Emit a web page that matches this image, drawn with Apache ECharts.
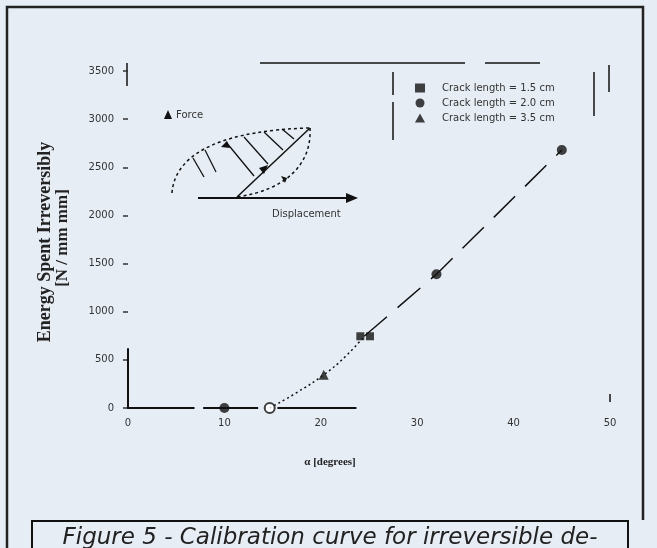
<!DOCTYPE html>
<html>
<head>
<meta charset="utf-8">
<script src="https://cdn.jsdelivr.net/npm/echarts@6/dist/echarts.min.js"></script>
<style>
  html, body { margin: 0; padding: 0; background: #e7edf5; }
  #chart { width: 657px; height: 548px; }
</style>
</head>
<body>
<div id="chart"></div>
<script>
// Calibration data: irreversible energy vs. angle alpha
const seriesNames = ['Crack length = 1.5 cm', 'Crack length = 2.0 cm', 'Crack length = 3.5 cm'];
const crack15 = [[24.1, 745], [25.1, 745]];
const crack20 = [[10, 0], [32, 1390], [45, 2680]];
const crack35 = [[20.3, 345]];
const onsetPoint = [[14.7, 0]];
// fitted calibration curve, lower (dotted) and upper (dashed) parts
const fitLower = [[14.7, 0], [17.5, 160], [20.3, 345], [22.5, 530], [24.5, 745]];
const fitUpper = [[24.5, 745], [32, 1390], [45, 2680]];
// axis fragments
const baseline = [[0, 0], [6.9, 0], [7.3, '-'], [7.8, 0], [13.5, 0], [14.5, '-'], [15.5, 0], [23.7, 0]];
const yAxisStub = [[0, -40], [0, 620]];
const yTicks = [0, 500, 1000, 1500, 2000, 2500, 3000, 3500];
const xTicks = [0, 10, 20, 30, 40, 50];

const ink = '#111';
const chart = echarts.init(document.getElementById('chart'));

chart.setOption({
  backgroundColor: '#e7edf5',
  animation: false,
  grid: { left: 128, right: 47, top: 71, bottom: 140 },
  xAxis: {
    type: 'value', min: 0, max: 50, interval: 10,
    axisLine: { show: false },
    axisTick: { show: false },
    splitLine: { show: false },
    axisLabel: {
      color: '#333', fontFamily: 'DejaVu Sans', fontSize: 10, margin: 10,
      formatter: v => xTicks.includes(v) ? String(v) : ''
    }
  },
  yAxis: {
    type: 'value', min: 0, max: 3500, interval: 500,
    axisLine: { show: false },
    axisTick: { show: true, length: 5, lineStyle: { color: '#333', width: 1.5 } },
    splitLine: { show: false },
    axisLabel: {
      color: '#333', fontFamily: 'DejaVu Sans', fontSize: 10, margin: 14,
      formatter: v => yTicks.includes(v) ? String(v) : ''
    }
  },
  legend: {
    orient: 'vertical', left: 410, top: 78, itemGap: 5,
    itemWidth: 10, itemHeight: 9,
    data: seriesNames,
    textStyle: { color: '#333', fontFamily: 'DejaVu Sans', fontSize: 10, padding: [0, 0, 0, 12] }
  },
  series: [
    { type: 'line', data: baseline, symbol: 'none', silent: true, connectNulls: false,
      lineStyle: { color: ink, width: 2 }, z: 1 },
    { type: 'line', data: yAxisStub, symbol: 'none', silent: true,
      lineStyle: { color: ink, width: 2 }, z: 1 },
    { type: 'line', data: fitLower, symbol: 'none', smooth: true,
      lineStyle: { color: ink, width: 1.5, type: [2, 3] }, z: 2 },
    { type: 'line', data: fitUpper, symbol: 'none',
      lineStyle: { color: ink, width: 1.5, type: [30, 14] }, z: 2 },
    { type: 'scatter', data: onsetPoint, symbol: 'emptyCircle', symbolSize: 10,
      itemStyle: { color: ink, borderColor: ink, borderWidth: 1.5 }, z: 3 },
    { name: seriesNames[0], type: 'scatter', data: crack15, symbol: 'rect', symbolSize: 8,
      itemStyle: { color: ink }, z: 4 },
    { name: seriesNames[1], type: 'scatter', data: crack20, symbol: 'circle', symbolSize: 10,
      itemStyle: { color: ink }, z: 4 },
    { name: seriesNames[2], type: 'scatter', data: crack35, symbol: 'triangle', symbolSize: 10,
      itemStyle: { color: ink }, z: 4 }
  ],
  graphic: [
    // outer figure frame
    { type: 'polyline', shape: { points: [[7, 548], [7, 7], [643, 7], [643, 520]] },
      style: { stroke: '#222', lineWidth: 2.5, fill: null } },
    // caption box
    { type: 'polyline', shape: { points: [[32, 560], [32, 521], [628, 521], [628, 560]] },
      style: { stroke: '#111', lineWidth: 2, fill: null } },
    { type: 'text', x: 330, y: 527,
      style: { text: 'Figure 5 - Calibration curve for irreversible de-', font: 'italic 23px "DejaVu Sans"', fill: '#222', textAlign: 'center' } },
    // y axis title
    { type: 'text', x: 45, y: 242, rotation: Math.PI / 2,
      style: { text: 'Energy Spent Irreversibly', font: 'bold 18px "Liberation Serif"', fill: '#222', textAlign: 'center', textVerticalAlign: 'middle' } },
    { type: 'text', x: 63, y: 238, rotation: Math.PI / 2,
      style: { text: '[N / mm mm]', font: 'bold 17px "Liberation Serif"', fill: '#222', textAlign: 'center', textVerticalAlign: 'middle' } },
    // x axis title
    { type: 'text', x: 330, y: 462,
      style: { text: 'α [degrees]', font: 'bold 11px "Liberation Serif"', fill: '#222', textAlign: 'center', textVerticalAlign: 'middle' } },
    // top frame fragments and legend box edges
    { type: 'line', shape: { x1: 260, y1: 63, x2: 465, y2: 63 }, style: { stroke: ink, lineWidth: 1.5 } },
    { type: 'line', shape: { x1: 485, y1: 63, x2: 540, y2: 63 }, style: { stroke: ink, lineWidth: 1.5 } },
    { type: 'line', shape: { x1: 127, y1: 63, x2: 127, y2: 86 }, style: { stroke: ink, lineWidth: 1.5 } },
    { type: 'line', shape: { x1: 393, y1: 72, x2: 393, y2: 95 }, style: { stroke: ink, lineWidth: 1.5 } },
    { type: 'line', shape: { x1: 393, y1: 102, x2: 393, y2: 140 }, style: { stroke: ink, lineWidth: 1.5 } },
    { type: 'line', shape: { x1: 594, y1: 72, x2: 594, y2: 116 }, style: { stroke: ink, lineWidth: 1.5 } },
    { type: 'line', shape: { x1: 609, y1: 65, x2: 609, y2: 92 }, style: { stroke: ink, lineWidth: 1.5 } },
    { type: 'line', shape: { x1: 610, y1: 394, x2: 610, y2: 402 }, style: { stroke: ink, lineWidth: 1.5 } },
    // inset: force-displacement loop sketch
    { type: 'polygon', shape: { points: [[168, 110], [164, 119], [172, 119]] }, style: { fill: ink } },
    { type: 'text', x: 176, y: 115,
      style: { text: 'Force', font: '10px "DejaVu Sans"', fill: '#333', textVerticalAlign: 'middle' } },
    { type: 'line', shape: { x1: 198, y1: 198, x2: 350, y2: 198 }, style: { stroke: ink, lineWidth: 2 } },
    { type: 'polygon', shape: { points: [[358, 198], [346, 193], [346, 203]] }, style: { fill: ink } },
    { type: 'text', x: 272, y: 214,
      style: { text: 'Displacement', font: '10px "DejaVu Sans"', fill: '#333', textVerticalAlign: 'middle' } },
    { type: 'bezierCurve', shape: { x1: 172, y1: 193, cpx1: 175, cpy1: 150, cpx2: 230, cpy2: 130, x2: 310, y2: 128 },
      style: { stroke: ink, lineWidth: 1.5, lineDash: [3, 3], fill: null } },
    { type: 'bezierCurve', shape: { x1: 310, y1: 128, cpx1: 312, cpy1: 165, cpx2: 285, cpy2: 190, x2: 237, y2: 197 },
      style: { stroke: ink, lineWidth: 1.5, lineDash: [3, 3], fill: null } },
    { type: 'line', shape: { x1: 237, y1: 197, x2: 310, y2: 128 }, style: { stroke: ink, lineWidth: 1.5 } },
    { type: 'polygon', shape: { points: [[268, 165], [259, 168], [264, 174]] }, style: { fill: ink } },
    { type: 'polygon', shape: { points: [[227, 141], [221, 147], [230, 148]] }, style: { fill: ink } },
    { type: 'polygon', shape: { points: [[287, 178], [281, 176], [285, 183]] }, style: { fill: ink } },
    { type: 'line', shape: { x1: 193, y1: 158, x2: 204, y2: 177 }, style: { stroke: ink, lineWidth: 1.3 } },
    { type: 'line', shape: { x1: 205, y1: 150, x2: 216, y2: 172 }, style: { stroke: ink, lineWidth: 1.3 } },
    { type: 'line', shape: { x1: 226, y1: 142, x2: 254, y2: 176 }, style: { stroke: ink, lineWidth: 1.3 } },
    { type: 'line', shape: { x1: 244, y1: 137, x2: 268, y2: 164 }, style: { stroke: ink, lineWidth: 1.3 } },
    { type: 'line', shape: { x1: 264, y1: 132, x2: 283, y2: 150 }, style: { stroke: ink, lineWidth: 1.3 } },
    { type: 'line', shape: { x1: 282, y1: 129, x2: 294, y2: 139 }, style: { stroke: ink, lineWidth: 1.3 } }
  ]
});
</script>
</body>
</html>
